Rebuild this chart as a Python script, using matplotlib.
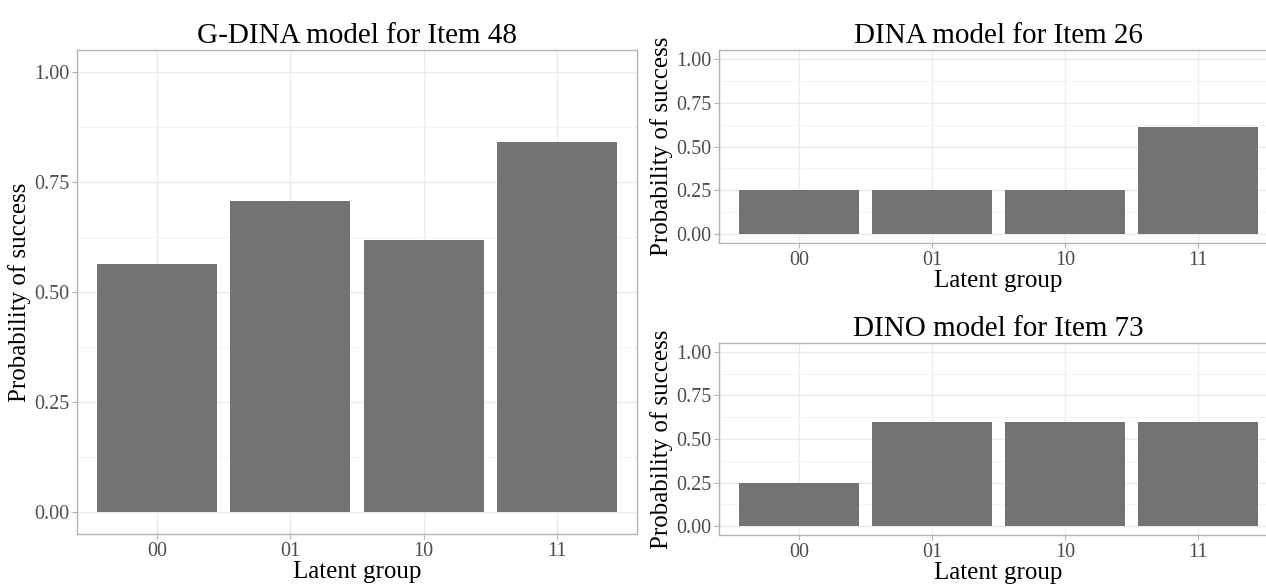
import matplotlib
matplotlib.use("Agg")
import matplotlib.pyplot as plt

plt.rcParams['font.family'] = ['Liberation Serif', 'DejaVu Serif']

groups = ["00", "01", "10", "11"]
gdina_48 = [0.564, 0.707, 0.618, 0.841]
dina_26 = [0.25, 0.25, 0.25, 0.612]
dino_73 = [0.25, 0.60, 0.60, 0.60]

W, H = 1266, 584


def box(x0, x1, ytop, ybot):
    return [x0 / W, (H - ybot) / H, (x1 - x0) / W, (ybot - ytop) / H]


def panel(ax, values, title):
    pos = list(range(len(groups)))
    ax.bar(pos, values, width=0.9, color="#737373", zorder=3)
    ax.set_xlim(-0.6, len(groups) - 0.4)
    ax.set_ylim(-0.05, 1.05)
    ax.set_xticks(pos)
    ax.set_xticklabels(groups)
    ax.set_yticks([0, 0.25, 0.5, 0.75, 1.0])
    ax.set_yticklabels(["0.00", "0.25", "0.50", "0.75", "1.00"])
    ax.set_yticks([0.125, 0.375, 0.625, 0.875], minor=True)
    ax.grid(True, which="major", color="#EBEBEB", lw=1.0, zorder=0)
    ax.grid(True, which="minor", axis="y", color="#F3F3F3", lw=0.6, zorder=0)
    for s in ax.spines.values():
        s.set_color("#B3B3B3")
        s.set_linewidth(1.0)
    ax.tick_params(which="major", color="#B3B3B3", length=3.5, width=0.8,
                   labelsize=14.5, labelcolor="#4D4D4D", pad=2)
    ax.tick_params(which="minor", length=0)
    ax.set_title(title, fontsize=21, pad=5)
    ax.set_xlabel("Latent group", fontsize=18, labelpad=0)
    ax.set_ylabel("Probability of success", fontsize=18, labelpad=2)


fig = plt.figure(figsize=(W / 100, H / 100), dpi=100)
ax1 = fig.add_axes(box(77, 637, 50, 534))
ax2 = fig.add_axes(box(719, 1278, 50, 243))
ax3 = fig.add_axes(box(719, 1278, 343, 535))

panel(ax1, gdina_48, "G-DINA model for Item 48")
panel(ax2, dina_26, "DINA model for Item 26")
panel(ax3, dino_73, "DINO model for Item 73")

fig.savefig("out.png", dpi=100)
